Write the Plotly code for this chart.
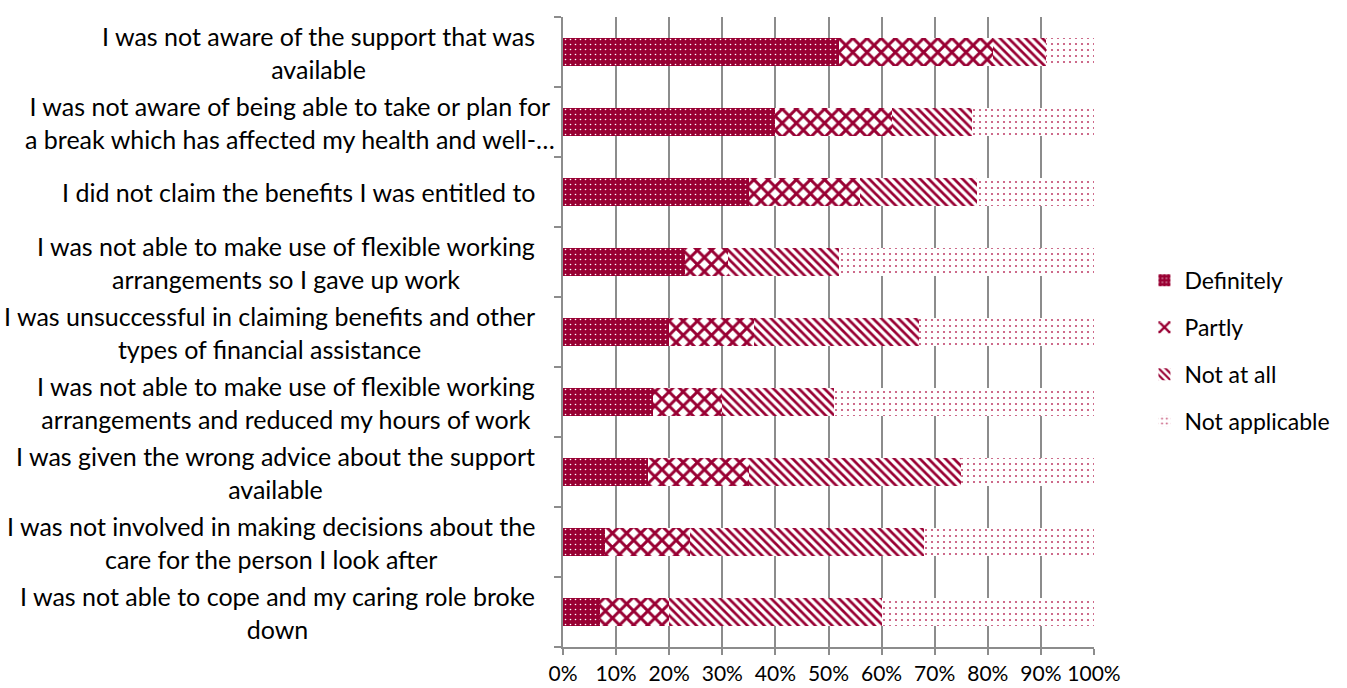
import plotly.graph_objects as go

categories = [
    "I was not aware of the support that was<br>available",
    "I was not aware of being able to take or plan for<br>a break which has affected my health and well-…",
    "I did not claim the benefits I was entitled to",
    "I was not able to make use of flexible working<br>arrangements so I gave up work",
    "I was unsuccessful in claiming benefits and other<br>types of financial assistance",
    "I was not able to make use of flexible working<br>arrangements and reduced my hours of work",
    "I was given the wrong advice about the support<br>available",
    "I was not involved in making decisions about the<br>care for the person I look after",
    "I was not able to cope and my caring role broke<br>down",
]
definitely = [52, 40, 35, 23, 20, 17, 16, 8, 7]
partly = [29, 22, 21, 8, 16, 13, 19, 16, 13]
not_at_all = [10, 15, 22, 21, 31, 21, 40, 44, 40]
not_applicable = [9, 23, 22, 48, 33, 49, 25, 32, 40]
series_names = ["Definitely", "Partly", "Not at all", "Not applicable"]
tick_vals = [0, 0.1, 0.2, 0.3, 0.4, 0.5, 0.6, 0.7, 0.8, 0.9, 1.0]

CRIMSON = "#990033"
FONT = "Lato"

series = [definitely, partly, not_at_all, not_applicable]
patterns = [
    dict(shape=".", bgcolor=CRIMSON, fgcolor="white", size=5, solidity=0.08, fillmode="replace"),
    dict(shape="x", bgcolor="white", fgcolor=CRIMSON, size=10, solidity=0.5, fillmode="replace"),
    dict(shape="\\", bgcolor="white", fgcolor=CRIMSON, size=6, solidity=0.45, fillmode="replace"),
    dict(shape=".", bgcolor="white", fgcolor="#c2466e", size=6, solidity=0.1, fillmode="replace"),
]

ids = list(range(len(categories)))
fig = go.Figure()
for name, vals, pat in zip(series_names, series, patterns):
    fig.add_trace(go.Bar(
        y=ids, x=[v / 100 for v in vals], name=name, orientation="h",
        marker=dict(color=pat["bgcolor"], pattern=pat, line=dict(width=0)),
        legendgroup=name,
    ))

annotations = []
for i, c in enumerate(categories):
    annotations.append(dict(
        x=0, xref="paper", y=i, yref="y", text=c, showarrow=False,
        xanchor="right", yanchor="middle", align="center",
        xshift=-6 if "well-" in c else -26,
        font=dict(family=FONT, size=25, color="black"),
    ))

fig.update_layout(
    width=1347, height=688,
    barmode="stack", bargap=0.6,
    plot_bgcolor="white", paper_bgcolor="white",
    margin=dict(l=563, r=250, t=17, b=41),
    font=dict(family=FONT, size=23, color="black"),
    annotations=annotations,
    xaxis=dict(
        range=[0, 1], tickvals=tick_vals, tickformat=".0%", tickangle=0,
        automargin=False,
        showgrid=True, gridcolor="#8c8c8c", gridwidth=1.5,
        showline=True, linecolor="#8c8c8c", linewidth=1.5,
        ticks="outside", ticklen=6, tickcolor="#8c8c8c", tickwidth=1.5,
        tickfont=dict(family=FONT, size=21, color="black"), zeroline=False,
        ticklabelstandoff=1,
    ),
    yaxis=dict(
        type="category", tickvals=ids, autorange="reversed", automargin=False,
        showticklabels=False, tickson="boundaries",
        ticks="outside", ticklen=7, tickcolor="#8c8c8c", tickwidth=1.5,
        showline=True, linecolor="#8c8c8c", linewidth=1.5, showgrid=False,
    ),
    legend=dict(
        x=1.095, xanchor="left", y=0.47, yanchor="middle", traceorder="grouped",
        tracegroupgap=14, font=dict(family=FONT, size=23, color="black"),
        itemwidth=30, borderwidth=0,
    ),
)

fig.write_html(
    "out.html",
    config={"displayModeBar": False},
    post_script="document.body.style.margin='0';document.body.style.overflow='hidden';",
)
